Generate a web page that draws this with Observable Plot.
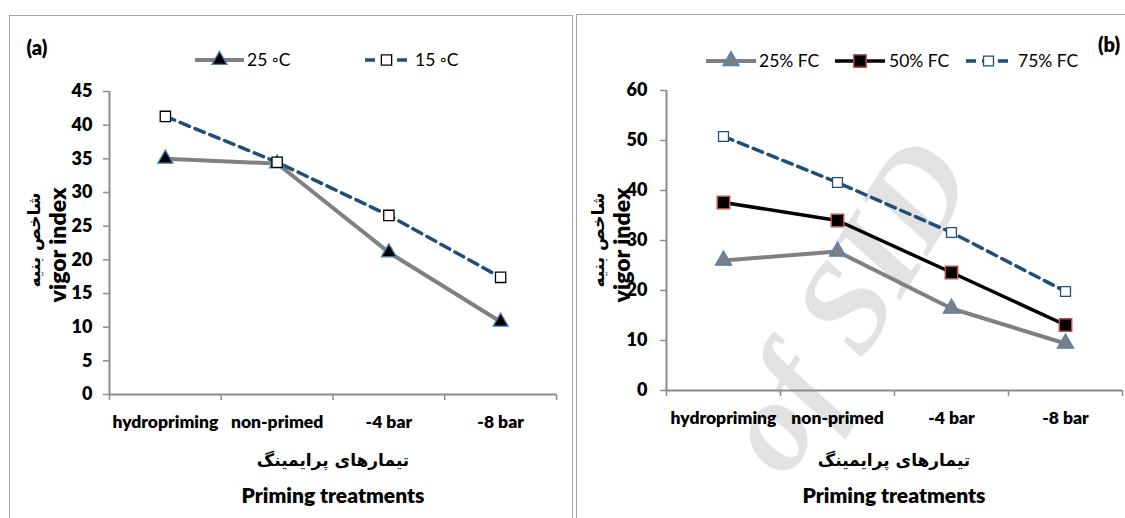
<!DOCTYPE html>
<html><head><meta charset="utf-8">
<script src="https://cdn.jsdelivr.net/npm/d3@7"></script>
<script src="https://cdn.jsdelivr.net/npm/@observablehq/plot@0.6"></script>
<style>
body{margin:0;background:#fff}
#wrap{position:relative;width:1125px;height:518px;overflow:hidden;background:#fff;font-family:Lato,'Liberation Sans',sans-serif}
.frame{position:absolute;border:1.5px solid #a6a6a6;box-sizing:border-box}
.abs{position:absolute;white-space:nowrap;line-height:1}
.plot{position:absolute;top:0}
</style></head>
<body><div id="wrap"></div>
<script>
// ---- data ----
const categories = ["hydropriming", "non-primed", "-4 bar", "-8 bar"];
const temp25 = [35.0, 34.3, 21.1, 10.8];
const temp15 = [41.3, 34.5, 26.6, 17.4];
const fc25 = [26.0, 27.8, 16.4, 9.4];
const fc50 = [37.6, 34.0, 23.6, 13.1];
const fc75 = [50.8, 41.6, 31.6, 19.8];
const yTicksA = [0, 5, 10, 15, 20, 25, 30, 35, 40, 45];
const yTicksB = [0, 10, 20, 30, 40, 50, 60];
const legendA = ["25 \u25E6C", "15 \u25E6C"];
const legendB = ["25% FC", "50% FC", "75% FC"];
const yTitleEn = "vigor index";
const yTitleFa = "شاخص بنیه";
const xTitleFa = "تیمارهای پرایمینگ";
const xTitleEn = "Priming treatments";

const F = "Lato,'Liberation Sans',sans-serif";
const wrap = document.getElementById("wrap");
const rows = vals => categories.map((c, i) => ({cat: c, x: i + 0.5, y: vals[i]}));

const st = {
  gray: {stroke: "#808080", strokeWidth: 4},
  navyDash: {stroke: "#1f4e79", strokeWidth: 3.5, strokeDasharray: "10,6"},
  black: {stroke: "#000", strokeWidth: 3.5}
};
const mk = {
  triBlack: {symbol: "triangle", r: 5.6, fill: "#000", stroke: "#4f81bd", strokeWidth: 1.3},
  triGray: {symbol: "triangle", r: 6, fill: "#7f7f7f", stroke: "#4f81bd", strokeWidth: 1.3},
  sqWhiteBlack: {symbol: "square", r: 5.8, fill: "#fff", stroke: "#000", strokeWidth: 1.3},
  sqBlackRed: {symbol: "square", r: 7, fill: "#000", stroke: "#c0504d", strokeWidth: 1.5},
  sqWhiteNavy: {symbol: "square", r: 5.6, fill: "#fff", stroke: "#1f4e79", strokeWidth: 1.3}
};

function el(txt, x, y, css, rot) {
  const d = document.createElement("div");
  d.className = "abs";
  d.textContent = txt;
  d.style.left = x + "px";
  d.style.top = y + "px";
  d.style.transform = "translate(-50%,-50%)" + (rot ? " rotate(" + rot + "deg)" : "");
  Object.assign(d.style, css || {});
  wrap.appendChild(d);
  return d;
}

// watermark (behind)
el("of SID", 845, 305, {fontFamily: "'Liberation Serif',serif", fontWeight: "bold", fontStyle: "italic", fontSize: "130px", color: "#e2e2e2"}, -58);

// frames
function frame(l, t, w, h) {
  const d = document.createElement("div");
  d.className = "frame";
  Object.assign(d.style, {left: l + "px", top: t + "px", width: w + "px", height: h + "px"});
  wrap.appendChild(d);
}
frame(9, 15, 564, 520);
frame(576, 14, 560, 520);

function panel(left, width, m, ymax, yticks, tickPad, series) {
  const axisColor = "#8c8c8c";
  const marks = [
    Plot.ruleY([0], {stroke: axisColor, strokeWidth: 2}),
    Plot.ruleX([0], {stroke: axisColor, strokeWidth: 2}),
    Plot.axisY({ticks: yticks, tickSize: 6, tickPadding: tickPad, stroke: axisColor, strokeWidth: 1.5,
      fontSize: 18, fontWeight: 800, fill: "#000", label: null}),
    Plot.axisX({ticks: [0, 1, 2, 3, 4], tickSize: 6, tickFormat: () => "", stroke: axisColor, strokeWidth: 1.5, label: null}),
    Plot.axisX({ticks: [0.5, 1.5, 2.5, 3.5], tickSize: 0, tickPadding: 21, tickFormat: d => categories[Math.floor(d)],
      fontSize: 17.5, fontWeight: 800, fill: "#000", label: null})
  ];
  for (const s of series) marks.push(Plot.line(rows(s.vals), {x: "x", y: "y", ...s.line}));
  for (const s of series) marks.push(Plot.dot(rows(s.vals), {x: "x", y: "y", ...s.dot}));
  const p = Plot.plot({
    width, height: 518,
    marginLeft: m[0], marginRight: m[1], marginTop: m[2], marginBottom: m[3],
    x: {domain: [0, 4]},
    y: {domain: [0, ymax]},
    style: {fontFamily: F, background: "transparent", overflow: "visible"},
    marks
  });
  const d = document.createElement("div");
  d.className = "plot";
  d.style.left = left + "px";
  d.appendChild(p);
  wrap.appendChild(d);
}

panel(0, 575, [109, 19, 91, 124], 45, yTicksA, 11, [
  {vals: temp25, line: st.gray, dot: mk.triBlack},
  {vals: temp15, line: st.navyDash, dot: mk.sqWhiteBlack}
]);
panel(575, 550, [91, 3, 90, 128], 60, yTicksB, 13, [
  {vals: fc25, line: st.gray, dot: mk.triGray},
  {vals: fc50, line: st.black, dot: mk.sqBlackRed},
  {vals: fc75, line: st.navyDash, dot: mk.sqWhiteNavy}
]);

// legends
function legendItem(x0, x1, yc, line, dot, text, textX) {
  const w = x1 - x0, h = 24;
  const svg = d3.create("svg").attr("width", w).attr("height", h)
    .style("position", "absolute").style("left", x0 + "px").style("top", (yc - h / 2) + "px");
  const l = svg.append("line").attr("x1", 0).attr("x2", w).attr("y1", h / 2).attr("y2", h / 2)
    .attr("stroke", line.stroke).attr("stroke-width", line.strokeWidth);
  if (line.strokeDasharray) l.attr("stroke-dasharray", line.strokeDasharray).attr("stroke-dashoffset", -1);
  const sym = dot.symbol === "triangle" ? d3.symbolTriangle : d3.symbolSquare;
  svg.append("path").attr("d", d3.symbol(sym, Math.PI * dot.r * dot.r)())
    .attr("transform", `translate(${w / 2},${h / 2})`)
    .attr("fill", dot.fill).attr("stroke", dot.stroke).attr("stroke-width", dot.strokeWidth);
  wrap.appendChild(svg.node());
  const t = document.createElement("div");
  t.className = "abs";
  t.textContent = text;
  Object.assign(t.style, {left: textX + "px", top: yc + "px", transform: "translateY(-50%)", fontSize: "17.5px"});
  wrap.appendChild(t);
}
legendItem(195, 244, 60, st.gray, mk.triBlack, legendA[0], 247);
legendItem(364, 409, 60, st.navyDash, mk.sqWhiteBlack, legendA[1], 415);
legendItem(706, 756, 61, st.gray, mk.triGray, legendB[0], 759);
legendItem(835, 885, 61, st.black, mk.sqBlackRed, legendB[1], 889);
legendItem(965, 1012, 61, st.navyDash, mk.sqWhiteNavy, legendB[2], 1018);

// panel letters
el("(a)", 37, 47, {fontWeight: 800, fontSize: "20px"});
el("(b)", 1109, 44, {fontWeight: 800, fontSize: "20px"});

// axis titles
const enBold = {fontWeight: 800, fontSize: "21px"};
const enBoldY = {fontWeight: 800, fontSize: "23px"};
const faBold = {fontFamily: "'DejaVu Sans',sans-serif", fontWeight: "bold", fontSize: "17px", direction: "rtl"};
el(yTitleEn, 57, 245, enBoldY, -90);
el(yTitleFa, 34, 240, faBold, -90);
el(yTitleEn, 621, 245, enBoldY, -90);
el(yTitleFa, 598, 240, faBold, -90);
el(xTitleFa, 333, 460, faBold);
el(xTitleEn, 333, 494, enBold);
el(xTitleFa, 894, 460, faBold);
el(xTitleEn, 894, 494, enBold);
</script></body></html>
